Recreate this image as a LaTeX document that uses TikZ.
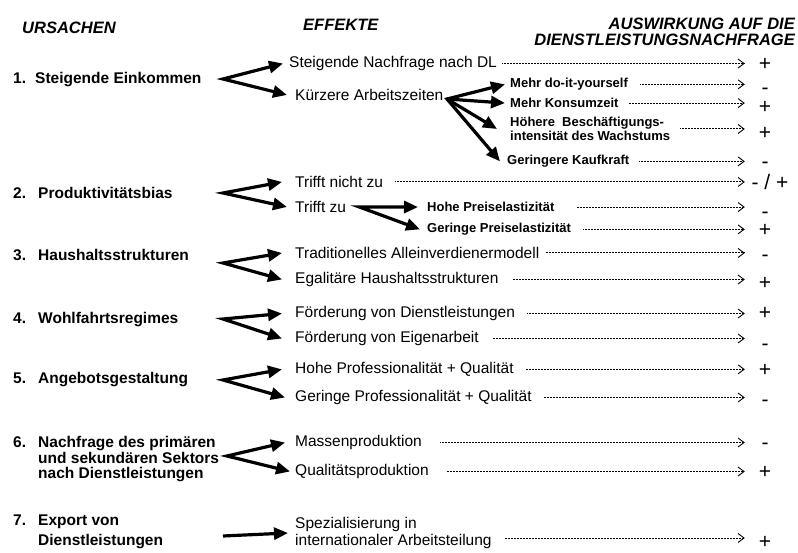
\documentclass[tikz,border=0pt]{standalone}
\usepackage{fontspec}
\setmainfont{Liberation Sans}
\usetikzlibrary{arrows.meta}
\begin{document}
\begin{tikzpicture}[x=1pt,y=-1pt,
 hdr/.style={font=\fontsize{16.5}{16}\selectfont\bfseries\itshape,inner sep=0pt},
 causetxt/.style={font=\fontsize{15.5}{15.5}\selectfont\bfseries,inner sep=0pt,align=left},
 efftxt/.style={font=\fontsize{15.5}{17}\selectfont,inner sep=0pt,align=left},
 subtxt/.style={font=\fontsize{13}{14}\selectfont\bfseries,inner sep=0pt,align=left},
 signtxt/.style={font=\fontsize{21}{21}\selectfont,inner sep=0pt,anchor=base,minimum width=40pt},
 fatfan/.style={line width=3.2pt,{Triangle[length=14pt,width=12pt]}-{Triangle[length=14pt,width=12pt]}},
 fatone/.style={line width=3.2pt,-{Triangle[length=14pt,width=12pt]}},
 dotline/.style={line width=1pt,dash pattern=on 1pt off 0.5pt,-{Straight Barb[length=6pt,width=9pt,line width=0.9pt]}},
]
\useasboundingbox (0,0) rectangle (798,553);

% headers
\node[hdr,anchor=base west] (hU) at (22,33.4) {URSACHEN};
\node[hdr,anchor=base west] (hE) at (303,30.4) {EFFEKTE};
\node[hdr,anchor=north east,align=right] (hA) at (795,18.2) {AUSWIRKUNG AUF DIE\\DIENSTLEISTUNGSNACHFRAGE};

% causes
\node[causetxt,anchor=base west] (n1) at (13,83.5) {1.};
\node[causetxt,anchor=base west] (c1) at (35,83.5) {Steigende Einkommen};
\node[causetxt,anchor=base west] (n2) at (13,198.5) {2.};
\node[causetxt,anchor=base west] (c2) at (38,198.5) {Produktivitätsbias};
\node[causetxt,anchor=base west] (n3) at (13,260.5) {3.};
\node[causetxt,anchor=base west] (c3) at (38,260.5) {Haushaltsstrukturen};
\node[causetxt,anchor=base west] (n4) at (13,323.5) {4.};
\node[causetxt,anchor=base west] (c4) at (38,323.5) {Wohlfahrtsregimes};
\node[causetxt,anchor=base west] (n5) at (13,383.5) {5.};
\node[causetxt,anchor=base west] (c5) at (38,383.5) {Angebotsgestaltung};
\node[causetxt,anchor=base west] (n6) at (13,447.5) {6.};
\node[causetxt,anchor=north west] (c6) at (38,436.2) {Nachfrage des primären\\und sekundären Sektors\\nach Dienstleistungen};
\node[causetxt,anchor=base west] (n7) at (13,525.5) {7.};
\node[causetxt,anchor=north west,font=\fontsize{15.5}{20}\selectfont\bfseries] (c7) at (38,514.2) {Export von\\Dienstleistungen};

% effects
\node[efftxt,anchor=base west] (e1a) at (289,67.5) {Steigende Nachfrage nach DL};
\node[efftxt,anchor=base west] (e1b) at (295,100.5) {Kürzere Arbeitszeiten};
\node[subtxt,anchor=base west] (m1) at (510,87.7) {Mehr do-it-yourself};
\node[subtxt,anchor=base west] (m2) at (510,107.7) {Mehr Konsumzeit};
\node[subtxt,anchor=west] (m3) at (510,129) {Höhere~~Beschäftigungs-\\intensität des Wachstums};
\node[subtxt,anchor=base west] (m4) at (507,164.7) {Geringere Kaufkraft};
\node[efftxt,anchor=base west] (t1) at (295,187.5) {Trifft nicht zu};
\node[efftxt,anchor=base west] (t2) at (295,212.5) {Trifft zu};
\node[subtxt,anchor=base west] (p1) at (427,211.7) {Hohe Preiselastizität};
\node[subtxt,anchor=base west] (p2) at (427,232.7) {Geringe Preiselastizität};
\node[efftxt,anchor=base west] (h1) at (295,258.5) {Traditionelles Alleinverdienermodell};
\node[efftxt,anchor=base west] (h2) at (295,283.5) {Egalitäre Haushaltsstrukturen};
\node[efftxt,anchor=base west] (w1) at (295,317.5) {Förderung von Dienstleistungen};
\node[efftxt,anchor=base west] (w2) at (295,342.5) {Förderung von Eigenarbeit};
\node[efftxt,anchor=base west] (g1) at (295,373.5) {Hohe Professionalität + Qualität};
\node[efftxt,anchor=base west] (g2) at (295,401.5) {Geringe Professionalität + Qualität};
\node[efftxt,anchor=base west] (q1) at (295,446.5) {Massenproduktion};
\node[efftxt,anchor=base west] (q2) at (295,475.5) {Qualitätsproduktion};
\node[efftxt,anchor=west] (x1) at (295,533) {Spezialisierung in\\internationaler Arbeitsteilung};

% signs
\node[signtxt] (s1a) at (765,71) {+};
\node[signtxt] (sm1) at (765,95) {-};
\node[signtxt] (sm2) at (765,114) {+};
\node[signtxt] (sm3) at (765,140) {+};
\node[signtxt] (sm4) at (765,169) {-};
\node[signtxt,minimum width=50pt] (st1) at (770,189.5) {- / +};
\node[signtxt] (sp1) at (765,219) {-};
\node[signtxt] (sp2) at (765,237) {+};
\node[signtxt] (sh1) at (765,262) {-};
\node[signtxt] (sh2) at (765,290) {+};
\node[signtxt] (sw1) at (765,320) {+};
\node[signtxt] (sw2) at (765,351) {-};
\node[signtxt] (sg1) at (765,377) {+};
\node[signtxt] (sg2) at (765,406) {-};
\node[signtxt] (sq1) at (765,449) {-};
\node[signtxt] (sq2) at (765,478) {+};
\node[signtxt] (sx1) at (765,548) {+};

% apex coordinates
\coordinate (a1) at (223,79);
\coordinate (k1) at (447,99);
\coordinate (a2) at (223,193);
\coordinate (k2) at ([xshift=13pt]t2.east);
\coordinate (a3) at (223,263);
\coordinate (a4) at (223,319);
\coordinate (a5) at (223,380);
\coordinate (a6) at (227,456);
\coordinate (a7) at (223,536);

% fat arrows
\draw[fatfan] ([xshift=-6pt]e1a.west) -- (a1) -- ([xshift=-8pt]e1b.west);
\draw[fatfan] ([xshift=-5pt]m1.west) -- (k1) -- ([xshift=-7pt]m4.west);
\draw[fatone] (k1) -- ([xshift=-5pt]m2.west);
\draw[fatone] (k1) -- ([xshift=-13pt]m3.west);
\draw[fatfan] ([xshift=-13pt]t1.west) -- (a2) -- ([xshift=-8pt]t2.west);
\draw[fatfan] ([xshift=-9pt]p1.west) -- (k2) -- ([xshift=-7pt]p2.west);
\draw[fatfan] ([xshift=-13pt]h1.west) -- (a3) -- ([xshift=-13pt]h2.west);
\draw[fatfan] ([xshift=-13pt]w1.west) -- (a4) -- ([xshift=-13pt]w2.west);
\draw[fatfan] ([xshift=-13pt]g1.west) -- (a5) -- ([xshift=-10pt]g2.west);
\draw[fatfan] ([xshift=-10pt]q1.west) -- (a6) -- ([xshift=-5pt]q2.west);
\draw[fatone] (a7) -- ([xshift=-7pt]x1.west);

% dotted arrows
\draw[dotline] ([xshift=5pt]e1a.east) -- (e1a.east -| s1a.west);
\draw[dotline] ([xshift=12pt]m1.east) -- (m1.east -| sm1.west);
\draw[dotline] ([xshift=10pt]m2.east) -- (m2.east -| sm2.west);
\draw[dotline] ([xshift=10pt]m3.east) -- (m3.east -| sm3.west);
\draw[dotline] ([xshift=10pt]m4.east) -- (m4.east -| sm4.west);
\draw[dotline] ([xshift=12pt]t1.east) -- (t1.east -| st1.west);
\draw[dotline] ([xshift=22pt]p1.east) -- (p1.east -| sp1.west);
\draw[dotline] ([xshift=12pt]p2.east) -- (p2.east -| sp2.west);
\draw[dotline] ([xshift=6pt]h1.east) -- (h1.east -| sh1.west);
\draw[dotline] ([xshift=14pt]h2.east) -- (h2.east -| sh2.west);
\draw[dotline] ([xshift=12pt]w1.east) -- (w1.east -| sw1.west);
\draw[dotline] ([xshift=14pt]w2.east) -- (w2.east -| sw2.west);
\draw[dotline] ([xshift=12pt]g1.east) -- (g1.east -| sg1.west);
\draw[dotline] ([xshift=12pt]g2.east) -- (g2.east -| sg2.west);
\draw[dotline] ([xshift=18pt]q1.east) -- (q1.east -| sq1.west);
\draw[dotline] ([xshift=18pt]q2.east) -- (q2.east -| sq2.west);
\coordinate (x1o) at ([yshift=-5pt]x1.east);
\draw[dotline] ([xshift=13pt]x1o) -- (x1o -| sx1.west);
\end{tikzpicture}
\end{document}
